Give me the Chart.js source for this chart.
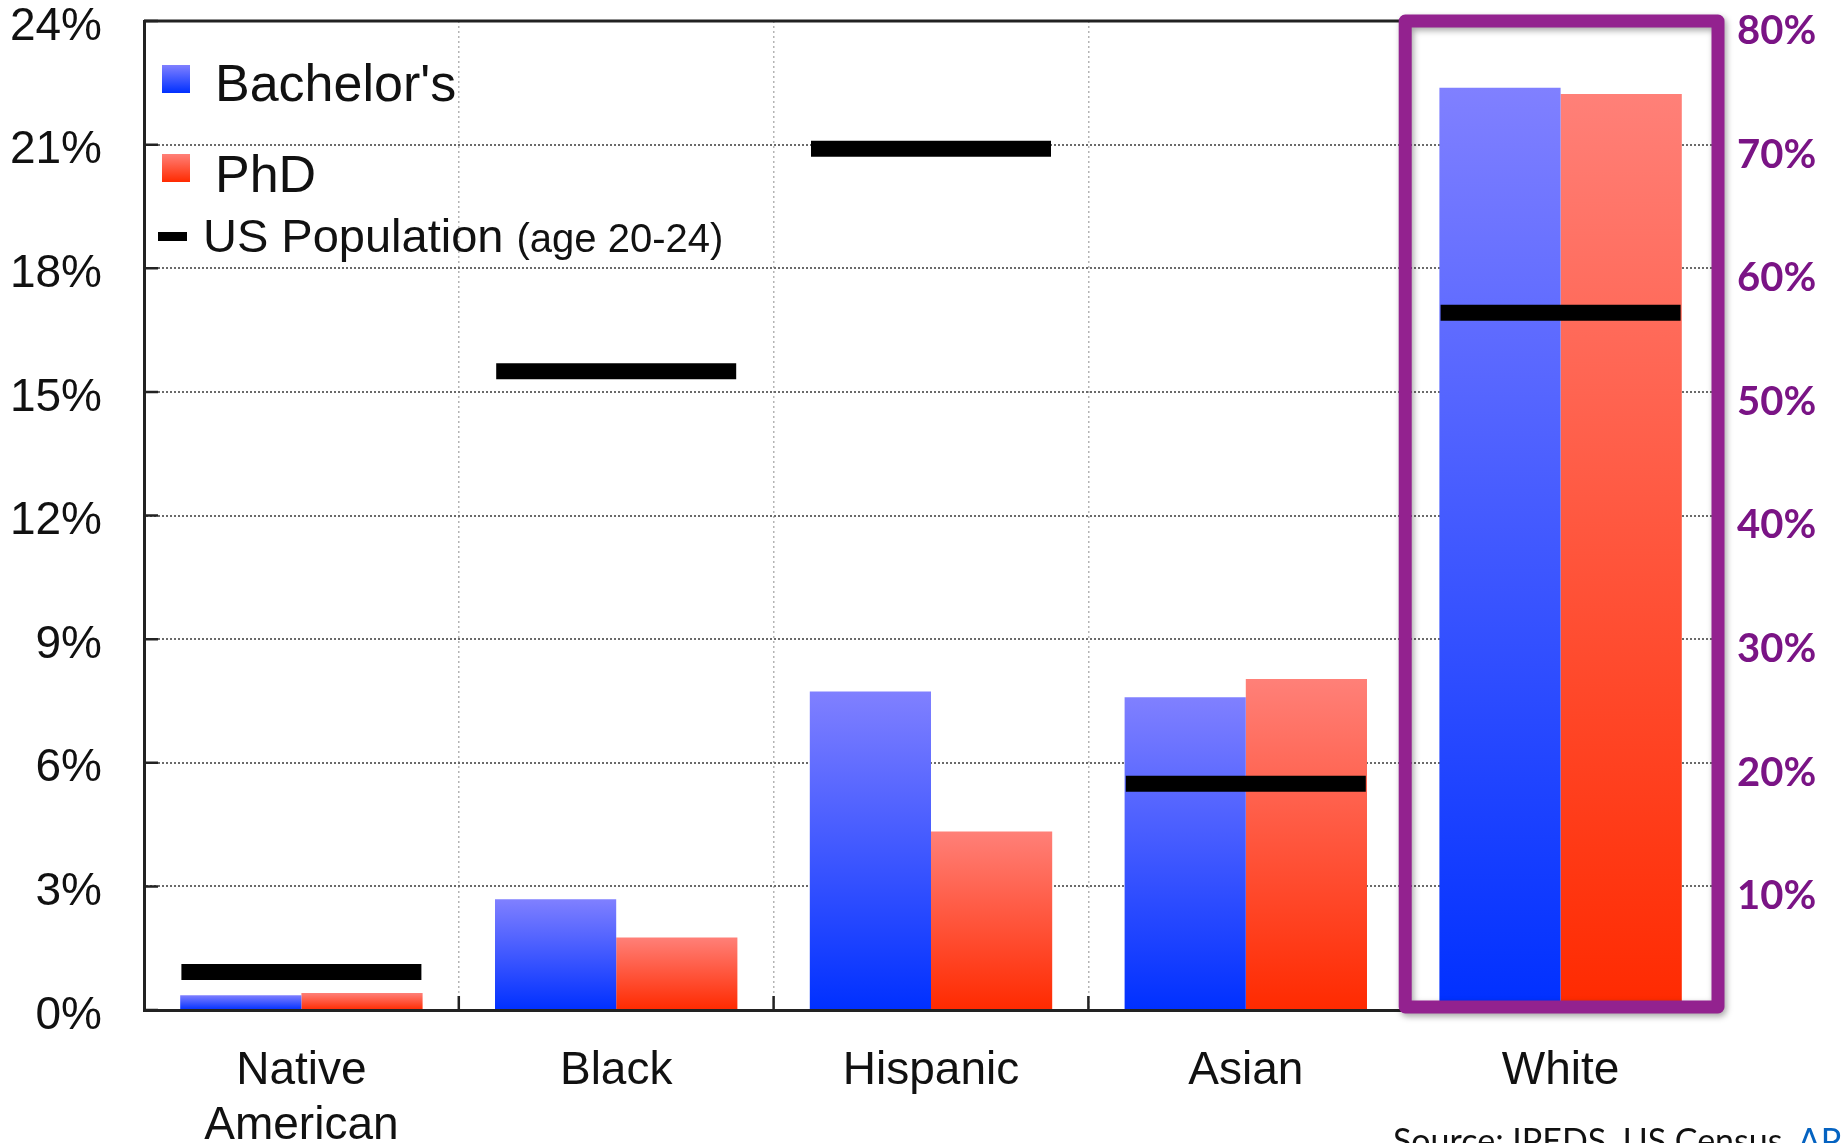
<!DOCTYPE html>
<html>
<head>
<meta charset="utf-8">
<script src="https://cdn.jsdelivr.net/npm/chart.js@4.4.1/dist/chart.umd.min.js"></script>
<style>
  html, body { margin: 0; padding: 0; background: #fff; overflow: hidden; }
  #wrap { position: relative; width: 1841px; height: 1143px; overflow: hidden; }
  #chart { position: absolute; left: 0; top: 0; }
  .leg { position: absolute; font-family: "Liberation Sans", Arial, sans-serif; color: #111; line-height: 1; white-space: nowrap; }
  .sw { position: absolute; width: 28px; height: 28px; }
  .sw.blue { background: linear-gradient(#8080ff, #0030ff); }
  .sw.red { background: linear-gradient(#ff8078, #ff2a00); }
  .dash { position: absolute; width: 29px; height: 9px; background: #000; }
  #source { position: absolute; left: 1393px; top: 1123px; font-family: Lato, "Open Sans", sans-serif; font-size: 34px; line-height: 1; color: #111; white-space: nowrap; }
  #source a { color: #0563c1; text-decoration: underline; }
</style>
</head>
<body>
<div id="wrap">
  <canvas id="chart" width="1841" height="1143"></canvas>
  <div class="sw blue" style="left:162px; top:65px;"></div>
  <div class="leg" style="left:215px; top:57px; font-size:52px;">Bachelor's</div>
  <div class="sw red" style="left:162px; top:154px;"></div>
  <div class="leg" style="left:215px; top:148px; font-size:52px;">PhD</div>
  <div class="dash" style="left:158px; top:232px;"></div>
  <div class="leg" style="left:203px; top:212px; font-size:47px;">US Population <span style="font-size:40px;">(age 20-24)</span></div>
  <div id="source">Source: IPEDS, US Census, <a>APS</a></div>
</div>
<script>
// categories; the last one (White) is read against the right-hand axis
const categories = [["Native", "American"], "Black", "Hispanic", "Asian", "White"];
const bachelors = [0.36, 2.69, 7.73, 7.59, 74.6];
const phd = [0.41, 1.76, 4.33, 8.03, 74.1];
const usPopulation = [0.92, 15.5, 20.9, 5.49, 56.4];
const leftTicks = [0, 3, 6, 9, 12, 15, 18, 21, 24];
const rightTicks = [10, 20, 30, 40, 50, 60, 70, 80];

const rightIndex = categories.length - 1;
const onLeft = arr => arr.map((v, i) => (i < rightIndex ? v : null));
const onRight = arr => arr.map((v, i) => (i === rightIndex ? v : null));

const PURPLE = "#93228f";

function barGradient(light, dark) {
  return ctx => {
    const chart = ctx.chart;
    if (ctx.type !== "data" || !chart.chartArea || ctx.parsed == null) return dark;
    const scale = chart.scales[ctx.dataset.yAxisID];
    const top = scale.getPixelForValue(ctx.parsed.y);
    const base = scale.getPixelForValue(0);
    if (!isFinite(top) || !isFinite(base) || top === base) return dark;
    const g = chart.ctx.createLinearGradient(0, top, 0, base);
    g.addColorStop(0, light);
    g.addColorStop(1, dark);
    return g;
  };
}

const blueFill = barGradient("#8080ff", "#0030ff");
const redFill = barGradient("#ff8078", "#ff2a00");

function barSet(label, data, axis, stack, fill) {
  return {
    type: "bar",
    label,
    data,
    yAxisID: axis,
    stack,
    order: 1,
    backgroundColor: fill,
    borderWidth: 0,
    categoryPercentage: 0.77,
    barPercentage: 1.0
  };
}

function popSet(data, axis) {
  return {
    type: "line",
    label: "US Population (age 20-24)",
    data,
    yAxisID: axis,
    order: 0,
    showLine: false,
    pointStyle: "line",
    pointRadius: 120,
    pointHoverRadius: 120,
    pointBorderWidth: 16,
    pointHoverBorderWidth: 16,
    pointBorderColor: "#000",
    pointBackgroundColor: "#000",
    clip: false
  };
}

const plotDecor = {
  id: "plotDecor",
  afterDraw(chart) {
    const { ctx, chartArea: a, scales } = chart;
    const x = scales.x;
    const y = scales.y;
    const step = x.getPixelForValue(1) - x.getPixelForValue(0);
    const boxLeft = x.getPixelForValue(rightIndex) - step / 2;

    ctx.save();
    ctx.strokeStyle = "#222";
    // top frame up to the highlighted column
    ctx.lineWidth = 3;
    ctx.beginPath();
    ctx.moveTo(a.left, a.top);
    ctx.lineTo(boxLeft, a.top);
    ctx.stroke();
    // inward tick marks
    ctx.lineWidth = 2.5;
    ctx.beginPath();
    leftTicks.forEach(v => {
      const py = y.getPixelForValue(v);
      ctx.moveTo(a.left, py);
      ctx.lineTo(a.left + 14, py);
    });
    for (let i = 1; i < categories.length; i++) {
      const px = x.getPixelForValue(i) - step / 2;
      ctx.moveTo(px, a.bottom);
      ctx.lineTo(px, a.bottom - 14);
    }
    ctx.stroke();

    // highlight box round the White column
    ctx.shadowColor = "rgba(0,0,0,0.35)";
    ctx.shadowBlur = 6;
    ctx.shadowOffsetX = 2;
    ctx.shadowOffsetY = 3;
    ctx.strokeStyle = PURPLE;
    ctx.lineWidth = 13;
    ctx.lineJoin = "round";
    ctx.strokeRect(boxLeft + 2, a.top, a.right - boxLeft - 2, a.bottom - a.top - 3);
    ctx.restore();
  }
};

function noPad(scale) {
  scale.paddingTop = 0;
  scale.paddingBottom = 0;
  scale.paddingLeft = 0;
  scale.paddingRight = 0;
}

new Chart(document.getElementById("chart"), {
  type: "bar",
  data: {
    labels: categories,
    datasets: [
      barSet("Bachelor's", onLeft(bachelors), "y", "bach", blueFill),
      barSet("PhD", onLeft(phd), "y", "phd", redFill),
      barSet("Bachelor's", onRight(bachelors), "y1", "bach", blueFill),
      barSet("PhD", onRight(phd), "y1", "phd", redFill),
      popSet(onLeft(usPopulation), "y"),
      popSet(onRight(usPopulation), "y1")
    ]
  },
  options: {
    responsive: false,
    animation: false,
    devicePixelRatio: 1,
    layout: { autoPadding: false, padding: { top: 21, left: 0, right: 0, bottom: 0 } },
    plugins: {
      legend: { display: false },
      tooltip: { enabled: false }
    },
    scales: {
      x: {
        offset: true,
        grid: { offset: true, color: "#b4b4b4", lineWidth: 1.5, drawTicks: false },
        border: { display: true, color: "#222", width: 3, dash: [2, 3] },
        ticks: {
          padding: 34,
          color: "#111",
          font: { family: "Liberation Sans", size: 46, lineHeight: 1.2 },
          maxRotation: 0,
          autoSkip: false
        },
        afterFit(scale) { noPad(scale); scale.height = 133; }
      },
      y: {
        position: "left",
        min: 0,
        max: 24,
        stacked: false,
        afterBuildTicks(scale) { scale.ticks = leftTicks.map(v => ({ value: v })); },
        grid: { color: "#6a6a6a", lineWidth: 2, drawTicks: false },
        border: { display: true, color: "#222", width: 3, dash: [2, 2] },
        ticks: {
          padding: 42,
          labelOffset: 6,
          color: "#111",
          font: { family: "Liberation Sans", size: 46, lineHeight: 0.8 },
          callback: v => v + "%"
        },
        afterFit(scale) { noPad(scale); scale.width = 144; }
      },
      y1: {
        position: "right",
        min: 0,
        max: 80,
        stacked: false,
        afterBuildTicks(scale) { scale.ticks = rightTicks.map(v => ({ value: v })); },
        grid: { drawOnChartArea: false, drawTicks: false },
        border: { display: false },
        ticks: {
          padding: 19,
          labelOffset: 10,
          color: "#7a1485",
          font: { family: "Lato", size: 40, weight: "bold", lineHeight: 0.8 },
          callback: v => v + "%"
        },
        afterFit(scale) { noPad(scale); scale.width = 123; }
      }
    }
  },
  plugins: [plotDecor]
});
</script>
</body>
</html>
